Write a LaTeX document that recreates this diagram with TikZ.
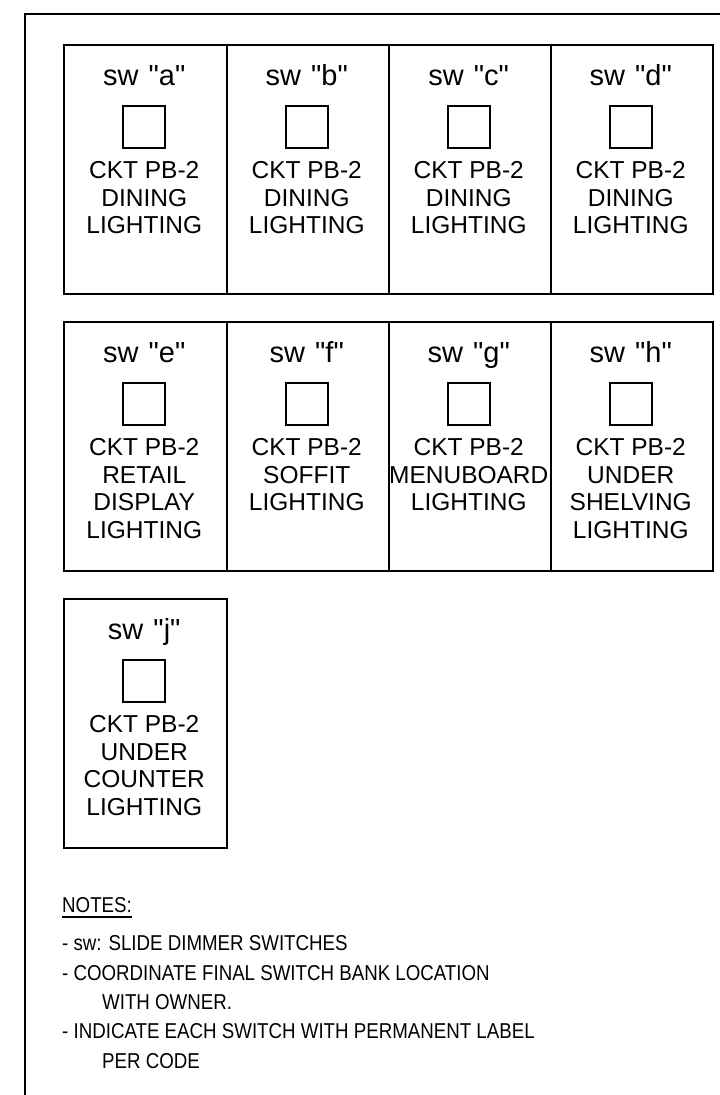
\documentclass[tikz,border=0pt]{standalone}
\usepackage{fontspec}
\newfontfamily\arialfont{Liberation Sans}
\newfontfamily\narrowfont[FakeStretch=0.87]{Liberation Sans}
\tikzset{
  frame/.style={line width=2pt},
  panel/.style={draw, line width=2pt, minimum width=162.5pt, minimum height=249pt, inner sep=0pt, anchor=north west},
  swtitle/.style={font=\arialfont\fontsize{29}{31}\selectfont, anchor=base, inner sep=0pt},
  knob/.style={draw, line width=1.8pt, minimum size=42pt, inner sep=0pt, anchor=north},
  lbl/.style={font=\arialfont\fontsize{24.5}{27.5}\selectfont, align=center, anchor=north, inner sep=0pt},
  note/.style={font=\narrowfont\fontsize{21.5}{24}\selectfont, anchor=base west, inner sep=0pt},
}
\newcommand{\swpanel}[5]{%
  \node[panel] (#1) at (#2,#3) {};
  \node[swtitle] (#1t) at ({#2+81.25},{#3+41}) {sw\hspace{2pt} "#4"};
  \node[knob] (#1s) at ({#2+81.25},{#3+61}) {};
  \node[lbl] (#1l) at ({#2+81.25},{#3+117.5}) {#5};
}
\begin{document}
\begin{tikzpicture}[x=1pt,y=-1pt]
\useasboundingbox (0,0) rectangle (720,1095);
\fill[white] (0,0) rectangle (720,1095);
\draw[frame] (25,1100) -- (25,14) -- (725,14);
\swpanel{pa}{63}{44}{a}{CKT PB-2\\DINING\\LIGHTING}
\swpanel{pb}{225.5}{44}{b}{CKT PB-2\\DINING\\LIGHTING}
\swpanel{pc}{387.5}{44}{c}{CKT PB-2\\DINING\\LIGHTING}
\swpanel{pd}{549.5}{44}{d}{CKT PB-2\\DINING\\LIGHTING}
\swpanel{pe}{63}{321}{e}{CKT PB-2\\RETAIL\\DISPLAY\\LIGHTING}
\swpanel{pf}{225.5}{321}{f}{CKT PB-2\\SOFFIT\\LIGHTING}
\swpanel{pg}{387.5}{321}{g}{CKT PB-2\\MENUBOARD\\LIGHTING}
\swpanel{ph}{549.5}{321}{h}{CKT PB-2\\UNDER\\SHELVING\\LIGHTING}
\swpanel{pj}{63}{598}{j}{CKT PB-2\\UNDER\\COUNTER\\LIGHTING}
\node[note] (notes) at (62,912) {NOTES:};
\draw[line width=1.8pt] ([yshift=-5pt]notes.base west) -- ([yshift=-5pt]notes.base east);
\node[note] (n1) at (62,950) {- sw: SLIDE DIMMER SWITCHES};
\node[note] (n2) at (62,980) {- COORDINATE FINAL SWITCH BANK LOCATION};
\node[note] (n2b) at (102,1009) {WITH OWNER.};
\node[note] (n3) at (62,1038) {- INDICATE EACH SWITCH WITH PERMANENT LABEL};
\node[note] (n3b) at (102,1068) {PER CODE};
\end{tikzpicture}
\end{document}
